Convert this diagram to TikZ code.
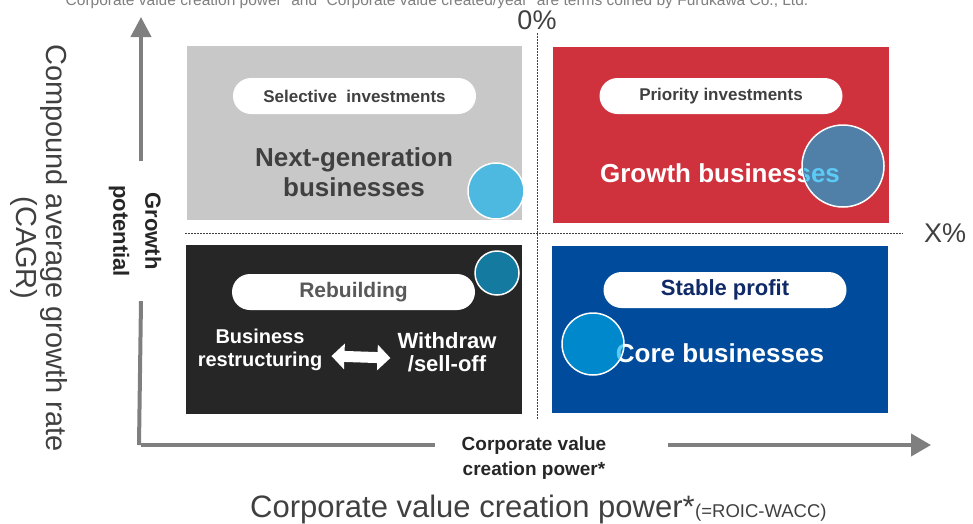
\documentclass[tikz,border=0pt]{standalone}
\usepackage{fontspec}
\setmainfont{Liberation Sans}
\usepackage{xcolor}
\usetikzlibrary{arrows.meta}

\definecolor{axisgray}{HTML}{7F7F7F}
\definecolor{darktxt}{HTML}{404040}
\definecolor{midtxt}{HTML}{595959}
\definecolor{navytxt}{HTML}{0F2A66}
\definecolor{boxgray}{HTML}{C8C8C8}
\definecolor{boxred}{HTML}{D0323D}
\definecolor{boxblack}{HTML}{262626}
\definecolor{boxblue}{HTML}{004B9B}
\definecolor{dotlight}{HTML}{4DB8E0}
\definecolor{dotsteel}{HTML}{5080A8}
\definecolor{dotteal}{HTML}{147AA0}
\definecolor{dotsky}{HTML}{0088CC}
\definecolor{overlap}{HTML}{5BCBF5}

\begin{document}
\begin{tikzpicture}[x=1pt, y=-1pt,
  axis/.style = {line width=4pt, axisgray},
  midline/.style = {line width=.7pt, darktxt, dash pattern=on 2pt off 1pt},
  pill/.style = {fill=white, rounded corners=18pt, minimum width=243pt, minimum height=36pt, inner sep=0pt, font=\bfseries\fontsize{17}{20}\selectfont},
  dot/.style = {circle, draw=white, line width=1.5pt, inner sep=0pt},
  big/.style = {font=\bfseries\fontsize{26}{30}\selectfont, align=center},
  small/.style = {font=\bfseries\fontsize{20}{23}\selectfont, align=center, white, inner sep=1pt}]
  \useasboundingbox (0,0) rectangle (973,523);

  % cut-off footnote at the top
  \node[anchor=base west, axisgray, font=\fontsize{15.5}{17}\selectfont] (note) at (57,5)
    {“Corporate value creation power” and “Corporate value created/year” are terms coined by Furukawa Co., Ltd.};

  % the four quadrants
  \fill[boxgray] (187,46) rectangle (522,220);
  \fill[boxred] (553,47) rectangle (889,223);
  \fill[boxblack] (186,245) rectangle (522,414);
  \fill[boxblue] (552,246) rectangle (888,413);

  % threshold lines
  \node[font=\fontsize{27}{30}\selectfont, darktxt] (zero) at (537,20) {0\%};
  \node[font=\fontsize{27}{30}\selectfont, darktxt] (xpct) at (945,233) {X\%};
  \coordinate (vbot) at (537,420);
  \coordinate (hl) at (185,233);
  \coordinate (hr) at (903,233);
  \draw[midline] (zero.south) -- (vbot);
  \draw[midline] (hl) -- (hr);

  % axes
  \coordinate (org) at (141,445);
  \coordinate (ytop) at (141,17);
  \coordinate (xa) at (435,445);
  \coordinate (xb) at (668,445);
  \coordinate (xend) at (931,445);
  \node[rotate=-90, align=center, inner xsep=24pt, inner ysep=0pt, text=boxblack,
    font=\bfseries\fontsize{22}{32}\selectfont] (gpot) at (135,231) {Growth\\potential};
  \draw[axis] ([xshift=-2pt]org) -- (org |- gpot.east);
  \draw[axis, -{Triangle[length=20pt,width=20pt]}] (org |- gpot.west) -- (ytop);
  \node[align=center, text=boxblack, font=\bfseries\fontsize{19}{25}\selectfont] (cvp) at (534,458)
    {Corporate value\\creation power*};
  \draw[axis] (org) -- (xa);
  \draw[axis, -{Triangle[length=20pt,width=22pt]}] (xb) -- (xend);

  % outer labels
  \node[rotate=-90, align=center, text=darktxt, font=\fontsize{29}{30}\selectfont] (cagr) at (39,248)
    {Compound average growth rate\\(CAGR)};
  \node[anchor=base west, inner sep=0pt, text=darktxt, font=\fontsize{31}{33}\selectfont] (cvpmain) at (250,517)
    {Corporate value creation power*};
  \node[anchor=base west, inner sep=0pt, text=darktxt, font=\fontsize{18.5}{20}\selectfont] (roic) at (cvpmain.base east)
    {(=ROIC-WACC)};

  % top left
  \node[pill, text=darktxt] (sel) at (354.5,96) {Selective\ \ investments};
  \node[big, text=darktxt] (nextgen) at (354,172) {Next-generation\\businesses};
  \node[dot, fill=dotlight, minimum size=56pt] (c1) at (496,191) {};

  % top right
  \node[pill, text=darktxt] (prio) at (721,96) {Priority investments};
  \node[big, white] (growb) at (720,173) {Growth businesses};
  \node[dot, fill=dotsteel, minimum size=82pt] (c2) at (843,166) {};
  \begin{scope}
    \clip (c2.center) circle (39.5pt);
    \node[big, text=overlap] at (growb) {Growth businesses};
  \end{scope}

  % bottom left
  \node[pill, text=midtxt, font=\bfseries\fontsize{21}{24}\selectfont] (rebuild) at (353.5,292) {Rebuilding};
  \node[small] (restr) at (260,350) {Business\\restructuring};
  \node[small, font=\bfseries\fontsize{22}{23}\selectfont] (wdraw) at (447,352) {Withdraw\\/sell-off};
  \draw[white, line width=11pt, {Triangle[length=13pt,width=25pt]}-{Triangle[length=13pt,width=25pt]}]
    ([xshift=8pt,yshift=-6pt]restr.east) -- ([xshift=-6pt,yshift=-6pt]wdraw.west);
  \node[dot, fill=dotteal, minimum size=44pt] (c3) at (497,273) {};

  % bottom right
  \node[pill, text=navytxt, font=\bfseries\fontsize{22}{24}\selectfont] (stable) at (725,290) {Stable profit};
  \node[big, white] (coreb) at (720,353) {Core businesses};
  \node[dot, fill=dotsky, minimum size=62pt] (c4) at (593,344) {};
  \begin{scope}
    \clip (c4.center) circle (29.5pt);
    \node[big, text=overlap] at (coreb) {Core businesses};
  \end{scope}
\end{tikzpicture}
\end{document}
